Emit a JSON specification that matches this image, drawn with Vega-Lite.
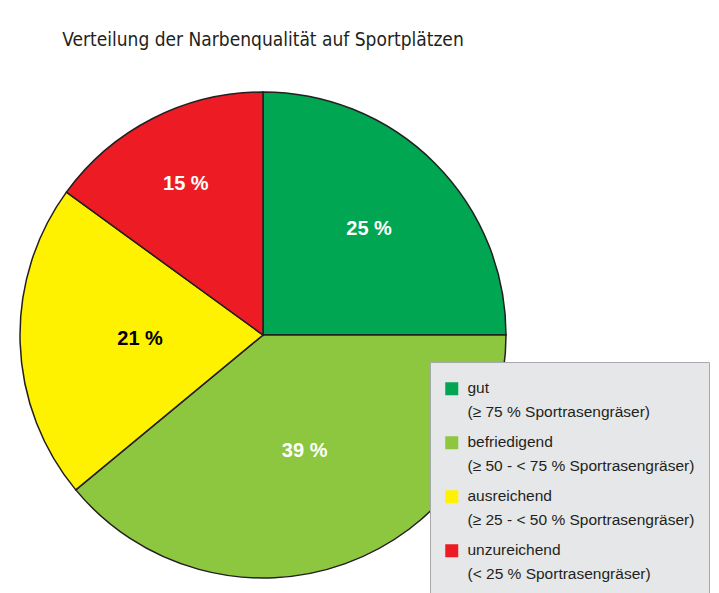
{
  "$schema": "https://vega.github.io/schema/vega-lite/v6.json",
  "width": 486,
  "height": 486,
  "autosize": {"type": "none"},
  "padding": {"left": 20, "top": 92, "right": 213, "bottom": 15},
  "background": "white",
  "title": {
    "text": "Verteilung der Narbenqualität auf Sportplätzen",
    "anchor": "middle",
    "font": "DejaVu Sans Condensed",
    "fontSize": 19,
    "fontWeight": "normal",
    "color": "#231f20",
    "baseline": "alphabetic",
    "offset": 24
  },
  "data": {
    "values": [
      {"nr": 1, "kategorie": "gut", "anteil": 25, "label": "25 %"},
      {"nr": 2, "kategorie": "befriedigend", "anteil": 39, "label": "39 %"},
      {"nr": 3, "kategorie": "ausreichend", "anteil": 21, "label": "21 %"},
      {"nr": 4, "kategorie": "unzureichend", "anteil": 15, "label": "15 %"}
    ]
  },
  "encoding": {
    "theta": {"field": "anteil", "type": "quantitative", "stack": true},
    "order": {"field": "nr", "type": "quantitative"}
  },
  "layer": [
    {
      "mark": {"type": "arc", "stroke": "#231f20", "strokeWidth": 1.5},
      "encoding": {
        "color": {
          "field": "kategorie",
          "type": "nominal",
          "sort": null,
          "scale": {
            "domain": ["gut", "befriedigend", "ausreichend", "unzureichend"],
            "range": ["#00a651", "#8dc63f", "#fff200", "#ed1c24"]
          },
          "legend": {
            "title": "\u00a0",
            "titleFontSize": 2,
            "titlePadding": 3,
            "orient": "none",
            "legendX": 410,
            "legendY": 270,
            "fillColor": "#e6e7e8",
            "strokeColor": "#a7a9ac",
            "padding": 14,
            "symbolType": "square",
            "symbolSize": 169,
            "symbolStrokeWidth": 0,
            "labelFont": "Liberation Sans",
            "labelFontSize": 15.5,
            "labelColor": "#231f20",
            "labelOffset": 8,
            "labelLimit": 400,
            "rowPadding": 13,
            "labelBaseline": "alphabetic",
            "labelExpr": "datum.label == 'gut' ? ['gut', '(≥ 75 % Sportrasengräser)'] : datum.label == 'befriedigend' ? ['befriedigend', '(≥ 50 - < 75 % Sportrasengräser)'] : datum.label == 'ausreichend' ? ['ausreichend', '(≥ 25 - < 50 % Sportrasengräser)'] : ['unzureichend', '(< 25 % Sportrasengräser)']"
          }
        }
      }
    },
    {
      "mark": {"type": "text", "radius": 150, "font": "Liberation Sans", "fontSize": 20, "fontWeight": "bold", "color": "#ffffff"},
      "encoding": {
        "text": {"field": "label", "type": "nominal"},
        "opacity": {"condition": {"test": "datum.nr == 1", "value": 1}, "value": 0}
      }
    },
    {
      "mark": {"type": "text", "radius": 170, "font": "Liberation Sans", "fontSize": 20, "fontWeight": "bold", "color": "#ffffff"},
      "encoding": {
        "text": {"field": "label", "type": "nominal"},
        "opacity": {"condition": {"test": "datum.nr == 4", "value": 1}, "value": 0}
      }
    },
    {
      "mark": {"type": "text", "radius": 123, "font": "Liberation Sans", "fontSize": 20, "fontWeight": "bold"},
      "encoding": {
        "text": {"field": "label", "type": "nominal"},
        "opacity": {"condition": {"test": "datum.nr == 2 || datum.nr == 3", "value": 1}, "value": 0},
        "color": {
          "condition": {"test": "datum.kategorie == 'ausreichend'", "value": "#000000"},
          "value": "#ffffff"
        }
      }
    }
  ],
  "config": {
    "view": {"stroke": null},
    "style": {"guide-label": {"lineHeight": 24, "dy": 4}}
  }
}
